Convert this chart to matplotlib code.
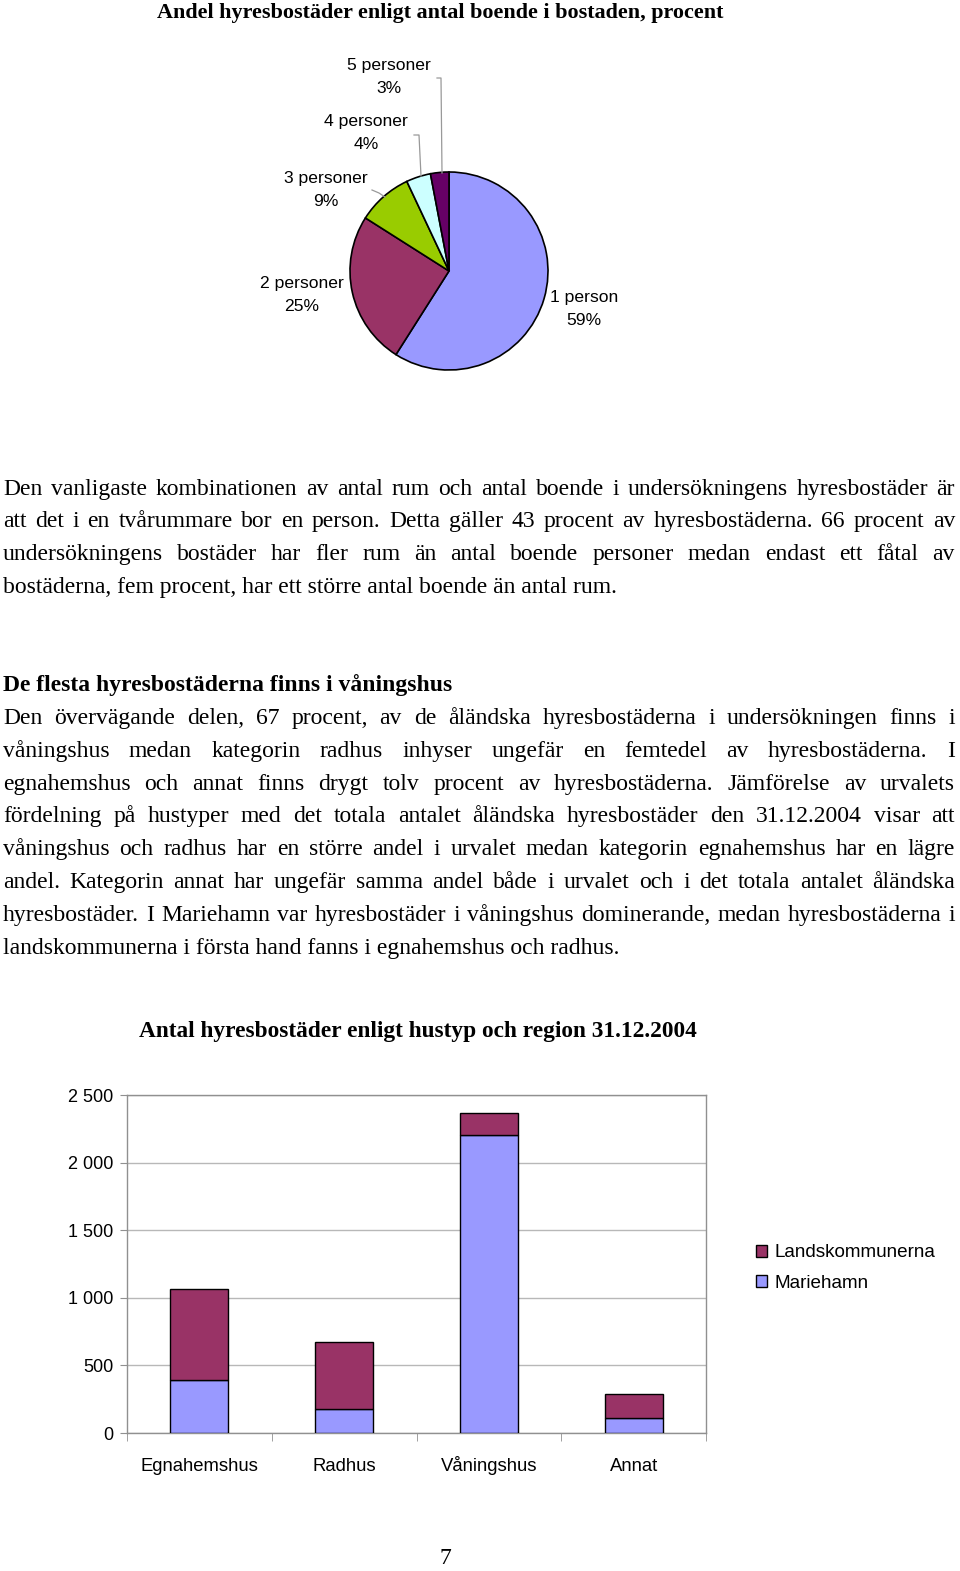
import matplotlib
matplotlib.use("Agg")
import matplotlib.pyplot as plt
from matplotlib.patches import Patch
from matplotlib.ticker import FixedLocator, FuncFormatter

W, H = 960, 1571

# ---------------- data ----------------
pie_labels = ["1 person", "2 personer", "3 personer", "4 personer", "5 personer"]
pie_values = [59, 25, 9, 4, 3]
pie_colors = ["#9999FF", "#993366", "#99CC00", "#CCFFFF", "#660066"]

bar_categories = ["Egnahemshus", "Radhus", "Våningshus", "Annat"]
mariehamn = [395, 177, 2203, 110]
landskommunerna = [670, 495, 167, 175]
bar_ticks = [0, 500, 1000, 1500, 2000, 2500]

pie_title = "Andel hyresbostäder enligt antal boende i bostaden, procent"
bar_title = "Antal hyresbostäder enligt hustyp och region 31.12.2004"

para1 = [
    "Den vanligaste kombinationen av antal rum och antal boende i undersökningens hyresbostäder är",
    "att det i en tvårummare bor en person. Detta gäller 43 procent av hyresbostäderna. 66 procent av",
    "undersökningens bostäder har fler rum än antal boende personer medan endast ett fåtal av",
    "bostäderna, fem procent, har ett större antal boende än antal rum.",
]
heading2 = "De flesta hyresbostäderna finns i våningshus"
para2 = [
    "Den övervägande delen, 67 procent, av de åländska hyresbostäderna i undersökningen finns i",
    "våningshus medan kategorin radhus inhyser ungefär en femtedel av hyresbostäderna. I",
    "egnahemshus och annat finns drygt tolv procent av hyresbostäderna. Jämförelse av urvalets",
    "fördelning på hustyper med det totala antalet åländska hyresbostäder den 31.12.2004 visar att",
    "våningshus och radhus har en större andel i urvalet medan kategorin egnahemshus har en lägre",
    "andel. Kategorin annat har ungefär samma andel både i urvalet och i det totala antalet åländska",
    "hyresbostäder. I Mariehamn var hyresbostäder i våningshus dominerande, medan hyresbostäderna i",
    "landskommunerna i första hand fanns i egnahemshus och radhus.",
]

SERIF = "Liberation Serif"
SANS = "Liberation Sans"

fig = plt.figure(figsize=(W / 100, H / 100), dpi=100)
fig.patch.set_facecolor("white")
renderer = fig.canvas.get_renderer()


def fx(x):
    return x / W


def fy(y):
    return 1 - y / H


# ---------------- body font size from measurement ----------------
tmp = fig.text(0, 0, para1[3], family=SERIF, fontsize=10)
w10 = tmp.get_window_extent(renderer).width
tmp.remove()
BODY_FS = 10 * 617 / w10


def line(s, yc, justify=True, weight="normal", x0=3, x1=955):
    yb = yc + 8
    if not justify:
        fig.text(fx(x0), fy(yb), s, family=SERIF, fontsize=BODY_FS,
                 weight=weight, va="baseline", ha="left")
        return
    words = s.split(" ")
    texts = [fig.text(0, 0, w, family=SERIF, fontsize=BODY_FS, weight=weight,
                      va="baseline", ha="left") for w in words]
    widths = [t.get_window_extent(renderer).width for t in texts]
    gap = (x1 - x0 - sum(widths)) / (len(words) - 1)
    x = x0
    for t, w in zip(texts, widths):
        t.set_position((fx(x), fy(yb)))
        x += w + gap


# ---------------- pie chart ----------------
fig.text(fx(440), fy(13), pie_title, family=SERIF, fontsize=15.9,
         weight="bold", ha="center", va="center")

cx, cy, r = 449, 271, 99
axp = fig.add_axes([fx(cx - r), fy(cy + r), 2 * r / W, 2 * r / H])
axp.pie(pie_values, colors=pie_colors, startangle=90, counterclock=False,
        wedgeprops=dict(edgecolor="black", linewidth=1.2))
axp.set_xlim(-1, 1)
axp.set_ylim(-1, 1)
axp.axis("off")


def dpx(px, py):
    return ((px - cx) / r, (cy - py) / r)


label_pos = {
    "1 person": (584, 309),
    "2 personer": (302, 295),
    "3 personer": (326, 190),
    "4 personer": (366, 133),
    "5 personer": (389, 77),
}
for lab, val in zip(pie_labels, pie_values):
    x, y = dpx(*label_pos[lab])
    axp.text(x, y, f"{lab}\n{val}%", family=SANS, fontsize=12.6,
             ha="center", va="center", linespacing=1.6, clip_on=False)

leaders = [
    [(437, 78), (441, 78), (442, 173)],
    [(414, 135), (419, 135), (421, 176)],
    [(372, 190), (379, 193), (385, 197)],
]
for pts in leaders:
    xs, ys = zip(*[dpx(*p) for p in pts])
    axp.plot(xs, ys, color="#999999", lw=0.9, clip_on=False)

# ---------------- text paragraphs ----------------
ys1 = [487, 519, 552, 585]
for i, (s, y) in enumerate(zip(para1, ys1)):
    line(s, y, justify=(i < len(para1) - 1))

line(heading2, 683, justify=False, weight="bold")
ys2 = [716, 749, 782, 814, 847, 880, 913, 946]
for i, (s, y) in enumerate(zip(para2, ys2)):
    line(s, y, justify=(i < len(para2) - 1))

# ---------------- bar chart ----------------
fig.text(fx(418), fy(1032), bar_title, family=SERIF, fontsize=16.8,
         weight="bold", ha="center", va="center")

L, R, T, B = 127, 706, 1095, 1433
axb = fig.add_axes([fx(L), fy(B), (R - L) / W, (B - T) / H])
xpos = list(range(len(bar_categories)))
axb.bar(xpos, mariehamn, width=0.4, color="#9999FF", edgecolor="black",
        linewidth=1.0, label="Mariehamn", zorder=3)
axb.bar(xpos, landskommunerna, width=0.4, bottom=mariehamn, color="#993366",
        edgecolor="black", linewidth=1.0, label="Landskommunerna", zorder=3)
axb.set_xlim(-0.5, len(bar_categories) - 0.5)
axb.set_ylim(0, 2500)
axb.yaxis.set_major_locator(FixedLocator(bar_ticks))
axb.yaxis.set_major_formatter(FuncFormatter(lambda v, p: f"{int(v):,}".replace(",", " ")))
axb.grid(axis="y", color="#B8B8B8", lw=1.0, zorder=0)
for s in axb.spines.values():
    s.set_color("#909090")
    s.set_linewidth(1.0)
axb.set_xticks(xpos)
axb.set_xticklabels(bar_categories, family=SANS, fontsize=13.3, va="baseline")
axb.set_xticks([i - 0.5 for i in range(len(bar_categories) + 1)], minor=True)
axb.tick_params(axis="x", which="major", length=0, pad=27.5)
axb.tick_params(axis="x", which="minor", length=6, color="#909090", direction="out")
axb.tick_params(axis="y", length=5, color="#909090", pad=5)
for t in axb.get_yticklabels():
    t.set_family(SANS)
    t.set_fontsize(13)

handles = [Patch(facecolor="#993366", edgecolor="black", lw=1.0),
           Patch(facecolor="#9999FF", edgecolor="black", lw=1.0)]
fig.legend(handles, ["Landskommunerna", "Mariehamn"], loc="center left",
           bbox_to_anchor=(fx(756), fy(1268)), frameon=False,
           prop={"family": SANS, "size": 13.6}, handlelength=0.6,
           handleheight=0.6, handletextpad=0.4, labelspacing=0.72,
           borderpad=0, borderaxespad=0)

# page number
fig.text(fx(445), fy(1558), "7", family=SERIF, fontsize=17, ha="center", va="center")

fig.savefig("out.png", dpi=100, facecolor="white")
